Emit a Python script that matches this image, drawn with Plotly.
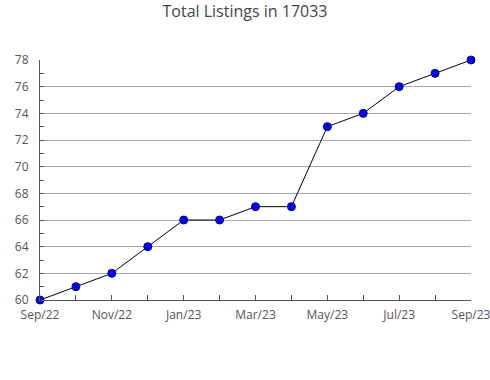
import plotly.graph_objects as go

months = ["Sep/22", "Oct/22", "Nov/22", "Dec/22", "Jan/23", "Feb/23", "Mar/23",
          "Apr/23", "May/23", "Jun/23", "Jul/23", "Aug/23", "Sep/23"]
listings = [60, 61, 62, 64, 66, 66, 67, 67, 73, 74, 76, 77, 78]
x_idx = list(range(len(months)))
tick_idx = x_idx[::2]
tick_labels = months[::2]

fig = go.Figure()
fig.add_trace(go.Scatter(
    x=x_idx, y=listings, mode="lines+markers",
    line=dict(color="black", width=1),
    marker=dict(color="#0000ff", size=8, line=dict(color="#000080", width=1)),
    cliponaxis=False, showlegend=False,
))

fig.update_layout(
    width=490, height=380,
    margin=dict(l=40, r=19, t=60, b=80, autoexpand=False),
    paper_bgcolor="white", plot_bgcolor="white",
    font=dict(family="Open Sans", size=12, color="#555555"),
    title=dict(text="Total Listings in 17033", x=0.5, xanchor="center",
               y=0.985, yanchor="top", font=dict(size=16, color="#444444")),
)
fig.update_xaxes(
    range=[0, 12], tickvals=tick_idx, ticktext=tick_labels, automargin=False,
    ticklabeloverflow="allow", ticklabelstandoff=4,
    showgrid=False, zeroline=False, showline=True, linecolor="#555555", linewidth=1,
    ticks="inside", ticklen=5, tickcolor="#555555",
    minor=dict(ticks="inside", dtick=1, tick0=0, ticklen=5, tickcolor="#555555"),
)
fig.update_yaxes(
    range=[60, 78], dtick=2, tick0=60, ticklabelstandoff=8, automargin=False,
    showgrid=True, gridcolor="#a8a8a8", gridwidth=1, zeroline=False,
    showline=True, linecolor="#555555", linewidth=1,
    ticks="inside", ticklen=4, tickcolor="#555555",
    minor=dict(ticks="inside", dtick=1, tick0=60, ticklen=4, tickcolor="#555555"),
)

fig.write_html("out.html")
